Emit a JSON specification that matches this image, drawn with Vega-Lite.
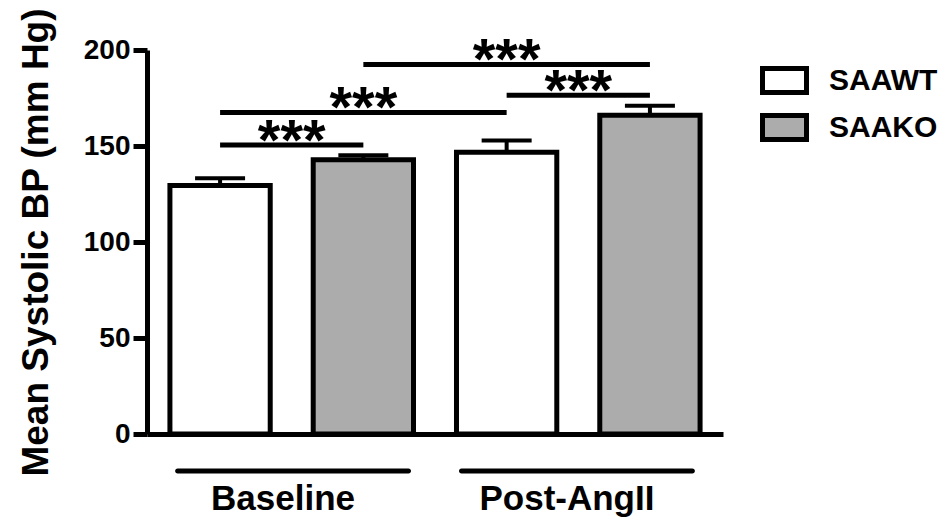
{
  "$schema": "https://vega.github.io/schema/vega-lite/v6.json",
  "width": 576,
  "height": 384,
  "autosize": {"type": "none"},
  "padding": {"left": 147, "top": 50, "right": 222, "bottom": 84},
  "config": {
    "view": {"stroke": null},
    "font": "Liberation Sans",
    "axis": {"grid": false, "domainColor": "black", "tickColor": "black", "labelColor": "black", "titleColor": "black"}
  },
  "datasets": {
    "bars": [
      {"bar": "Baseline SAAWT", "period": "Baseline", "genotype": "SAAWT", "mean": 129.4, "upper": 133.2},
      {"bar": "Baseline SAAKO", "period": "Baseline", "genotype": "SAAKO", "mean": 142.9, "upper": 145.2},
      {"bar": "Post-AngII SAAWT", "period": "Post-AngII", "genotype": "SAAWT", "mean": 146.7, "upper": 152.8},
      {"bar": "Post-AngII SAAKO", "period": "Post-AngII", "genotype": "SAAKO", "mean": 166.0, "upper": 171.0}
    ],
    "comparisons": [
      {"from": "Baseline SAAWT", "to": "Baseline SAAKO", "mid": null, "kind": "adjacent", "level": 150.5, "label": "***"},
      {"from": "Baseline SAAWT", "to": "Post-AngII SAAWT", "mid": "Baseline SAAKO", "kind": "wide", "level": 167.5, "label": "***"},
      {"from": "Baseline SAAKO", "to": "Post-AngII SAAKO", "mid": "Post-AngII SAAWT", "kind": "wide", "level": 192.5, "label": "***"},
      {"from": "Post-AngII SAAWT", "to": "Post-AngII SAAKO", "mid": null, "kind": "adjacent", "level": 176.4, "label": "***"}
    ],
    "periods": [
      {"period": "Baseline"},
      {"period": "Post-AngII"}
    ]
  },
  "layer": [
    {
      "layer": [
        {
          "data": {"name": "bars"},
          "mark": {"type": "rule", "color": "black", "strokeWidth": 4},
          "encoding": {
            "x": {"field": "bar", "type": "nominal", "title": null},
            "y": {"field": "mean", "type": "quantitative", "title": "Mean Systolic BP (mm Hg)"},
            "y2": {"field": "upper"}
          }
        },
        {
          "data": {"name": "bars"},
          "mark": {"type": "tick", "color": "black", "size": 50, "thickness": 4, "opacity": 1},
          "encoding": {
            "x": {"field": "bar", "type": "nominal", "title": null},
            "y": {"field": "upper", "type": "quantitative", "title": "Mean Systolic BP (mm Hg)"}
          }
        },
        {
          "data": {"name": "bars"},
          "mark": {"type": "bar", "stroke": "black", "strokeWidth": 5, "opacity": 1},
          "encoding": {
            "x": {
              "field": "bar", "type": "nominal", "title": null,
              "scale": {"domain": ["Baseline SAAWT", "Baseline SAAKO", "Post-AngII SAAWT", "Post-AngII SAAKO"], "paddingInner": 0.3, "paddingOuter": 0.16},
              "axis": {"labels": false, "ticks": false, "domainWidth": 5, "title": null}
            },
            "y": {
              "field": "mean", "type": "quantitative", "title": "Mean Systolic BP (mm Hg)",
              "scale": {"domain": [0, 200], "nice": false, "zero": true},
              "axis": {
                "values": [0, 50, 100, 150, 200],
                "domainWidth": 5, "tickWidth": 5, "tickSize": 14,
                "labelFontSize": 28, "labelFontWeight": "bold", "labelPadding": 3,
                "titleFontSize": 37, "titleFontWeight": "bold", "titlePadding": 28
              }
            },
            "fill": {
              "field": "genotype", "type": "nominal",
              "scale": {"domain": ["SAAWT", "SAAKO"], "range": ["white", "#acacac"]},
              "legend": {
                "title": null, "orient": "none", "legendX": 613, "legendY": 6,
                "symbolType": "M-1,-0.545H1V0.545H-1Z", "symbolSize": 1936,
                "symbolStrokeColor": "black", "symbolStrokeWidth": 5,
                "labelFontSize": 30, "labelFontWeight": "bold", "labelColor": "black",
                "labelOffset": 20, "rowPadding": 0
              }
            }
          }
        },
        {
          "data": {"name": "comparisons"},
          "mark": {"type": "rule", "color": "black", "strokeWidth": 5},
          "encoding": {
            "x": {"field": "from", "type": "nominal", "title": null},
            "x2": {"field": "to"},
            "y": {"field": "level", "type": "quantitative", "title": "Mean Systolic BP (mm Hg)"}
          }
        },
        {
          "data": {"name": "comparisons"},
          "transform": [{"filter": "datum.kind === 'adjacent'"}],
          "mark": {"type": "text", "color": "black", "fontSize": 58, "fontWeight": "bold", "align": "center", "baseline": "alphabetic", "dy": 15},
          "encoding": {
            "x": {"field": "from", "type": "nominal", "title": null, "bandPosition": 1.214},
            "y": {"field": "level", "type": "quantitative", "title": "Mean Systolic BP (mm Hg)"},
            "text": {"field": "label"}
          }
        },
        {
          "data": {"name": "comparisons"},
          "transform": [{"filter": "datum.kind === 'wide'"}],
          "mark": {"type": "text", "color": "black", "fontSize": 58, "fontWeight": "bold", "align": "center", "baseline": "alphabetic", "dy": 15},
          "encoding": {
            "x": {"field": "mid", "type": "nominal", "title": null},
            "y": {"field": "level", "type": "quantitative", "title": "Mean Systolic BP (mm Hg)"},
            "text": {"field": "label"}
          }
        }
      ]
    },
    {
      "data": {"name": "periods"},
      "encoding": {
        "x": {
          "field": "period", "type": "nominal", "title": null, "axis": null,
          "scale": {"domain": ["Baseline", "Post-AngII"], "paddingInner": 0.169, "paddingOuter": 0.099}
        }
      },
      "layer": [
        {
          "mark": {"type": "bar", "color": "black", "cornerRadius": 2.5},
          "encoding": {
            "y": {"datum": -17.97},
            "y2": {"datum": -20.57}
          }
        },
        {
          "mark": {"type": "text", "color": "black", "fontSize": 35, "fontWeight": "bold", "align": "center", "baseline": "alphabetic", "dx": -10},
          "encoding": {
            "y": {"datum": -39.6},
            "text": {"field": "period"}
          }
        }
      ]
    }
  ],
  "resolve": {"scale": {"x": "independent"}, "axis": {"x": "independent"}}
}
